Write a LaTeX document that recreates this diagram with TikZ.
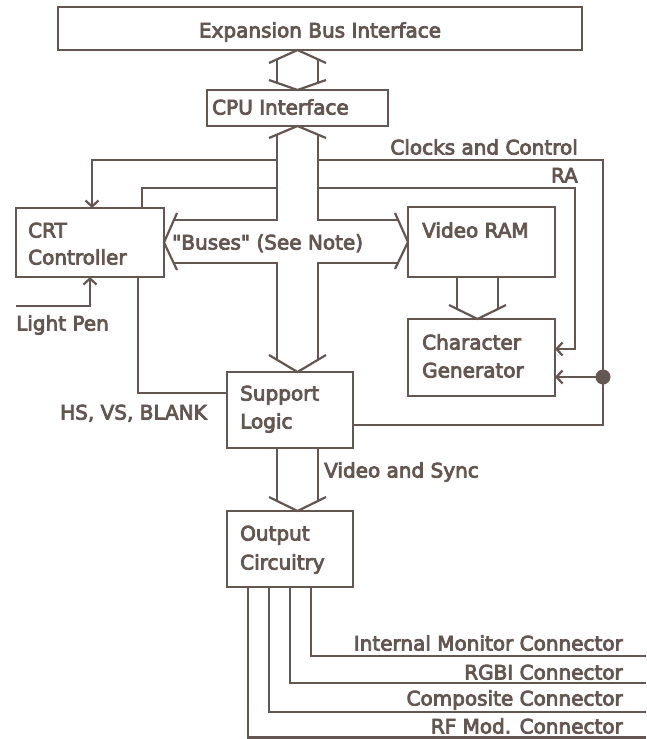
\documentclass[tikz,border=0pt]{standalone}
\usetikzlibrary{arrows.meta}
\font\inkfnt="DejaVu Sans:embolden=4" at 20pt
\definecolor{ink}{RGB}{100,86,80}
\begin{document}
\begin{tikzpicture}[x=1pt,y=-1pt,
  conn/.style={draw=ink, line width=2.2pt},
  arr/.style={conn, -{Straight Barb[length=6pt,width=13pt]}},
  box/.style={draw=ink, line width=2.2pt, inner sep=0pt, outer sep=0pt},
  tx/.style={text=ink, inner sep=0pt, font=\inkfnt}]
\fill[white] (0,0) rectangle (646,739);
\useasboundingbox (0,0) rectangle (646,739);

% boxes
\node[box, minimum width=524pt, minimum height=43pt] (exp) at (320,28.5) {};
\node[box, minimum width=181pt, minimum height=36pt] (cpu) at (297.5,108) {};
\node[box, minimum width=148pt, minimum height=69pt] (crt) at (90,242.5) {};
\node[box, minimum width=147pt, minimum height=70pt] (vram) at (481.5,242) {};
\node[box, minimum width=147pt, minimum height=77pt] (cgen) at (481.5,357.5) {};
\node[box, minimum width=126pt, minimum height=76pt] (sup) at (290,410) {};
\node[box, minimum width=126pt, minimum height=76pt] (out) at (290,549) {};

% texts
\node[tx, anchor=base] (texp) at (320,37.5) {Expansion Bus Interface};
\node[tx, anchor=base west] (tcpu) at (212,114.5) {CPU Interface};
\node[tx, anchor=base west] (tcrt1) at (28,237.5) {CRT};
\node[tx, anchor=base west] (tcrt2) at (28,264.5) {Controller};
\node[tx, anchor=base west] (tvram) at (422,237.5) {Video RAM};
\node[tx, anchor=base west] (tcg1) at (422,349.5) {Character};
\node[tx, anchor=base west] (tcg2) at (422,377.5) {Generator};
\node[tx, anchor=base west] (tsup1) at (240,400.5) {Support};
\node[tx, anchor=base west] (tsup2) at (240,428.5) {Logic};
\node[tx, anchor=base west] (tout1) at (240,540.5) {Output};
\node[tx, anchor=base west] (tout2) at (240,569.5) {Circuitry};
\node[tx, anchor=base east] (tclk) at (578,154.5) {Clocks and Control};
\node[tx, anchor=base east] (tra) at (578,182.5) {RA};
\node[tx, anchor=base west] (tbus) at (172,249.5) {"Buses" (See Note)};
\node[tx, anchor=base west] (tlp) at (16,330.5) {Light Pen};
\node[tx, anchor=base east] (ths) at (207,419.5) {HS, VS, BLANK};
\node[tx, anchor=base west] (tvs) at (324,477.5) {Video and Sync};
\node[tx, anchor=base east] (tim) at (623,650.5) {Internal Monitor Connector};
\node[tx, anchor=base east] (trgb) at (623,679.5) {RGBI Connector};
\node[tx, anchor=base east] (tcomp) at (623,705.5) {Composite Connector};
\node[tx, anchor=base east] (trf) at (623,733.5) {RF Mod. Connector};

% hollow double arrow between expansion bus and CPU interface
\draw[conn] (269,63) -- (297.5,50) -- (326,63);
\draw[conn] (269,80) -- (cpu.north) -- (326,80);
\draw[conn] (277,59.4) -- (277,83.5);
\draw[conn] (318,59.4) -- (318,83.5);

% the bus cross
\draw[conn] (269,138) -- (cpu.south) -- (326,138);
\draw[conn] (277,134.6) -- (277,220) -- (174,220);
\draw[conn] (318,134.6) -- (318,220) -- (398.2,220);
\draw[conn] (177,213) -- (crt.east) -- (177,270);
\draw[conn] (395,213) -- (vram.west) -- (395,269);
\draw[conn] (174,263) -- (277,263) -- (277,359.8);
\draw[conn] (397.8,263) -- (318,263) -- (318,359.8);
\draw[conn] (269,355) -- (297.5,372) -- (326,355);

% video RAM -> character generator
\draw[conn] (457,277) -- (457,308.9);
\draw[conn] (498,277) -- (498,308.9);
\draw[conn] (449,305) -- (477.5,319) -- (506,305);

% video and sync
\draw[conn] (277,448) -- (277,500.9);
\draw[conn] (318,448) -- (318,500.9);
\draw[conn] (269,497) -- (297.5,511) -- (326,497);

% clocks and control
\coordinate (c1) at (277,160);
\coordinate (c2) at (92,160);
\coordinate (c3) at (318,160);
\coordinate (c4) at (603,160);
\coordinate (c5) at (603,425);
\coordinate (dot) at (603,377);
\draw[arr] (c1) -- (c2) -- (c2 |- crt.north);
\draw[conn] (c3) -- (c4) -- (c5) -- (c5 -| sup.east);
\fill[ink] (dot) circle (7.5);
\draw[arr] (dot) -- (dot -| cgen.east);

% RA
\coordinate (r1) at (277,188);
\coordinate (r2) at (142,188);
\coordinate (r3) at (318,188);
\coordinate (r4) at (575,188);
\coordinate (r5) at (575,349);
\draw[conn] (r1) -- (r2) -- (r2 |- crt.north);
\draw[arr] (r3) -- (r4) -- (r5) -- (r5 -| cgen.east);

% light pen
\coordinate (lp1) at (16,306);
\coordinate (lp2) at (90,306);
\draw[arr] (lp1) -- (lp2) -- (lp2 |- crt.south);

% HS, VS, BLANK
\coordinate (h2) at (138,393);
\draw[conn] (h2 |- crt.south) -- (h2) -- (h2 -| sup.west);

% output connectors
\foreach \n/\xx/\yy in {a/311/656, b/290/683, c/269/712, d/248/737.5}{
  \coordinate (o\n) at (\xx,\yy);
  \coordinate (e\n) at (646,\yy);
  \draw[conn] (o\n |- out.south) -- (o\n) -- (e\n);
}
\end{tikzpicture}
\end{document}
